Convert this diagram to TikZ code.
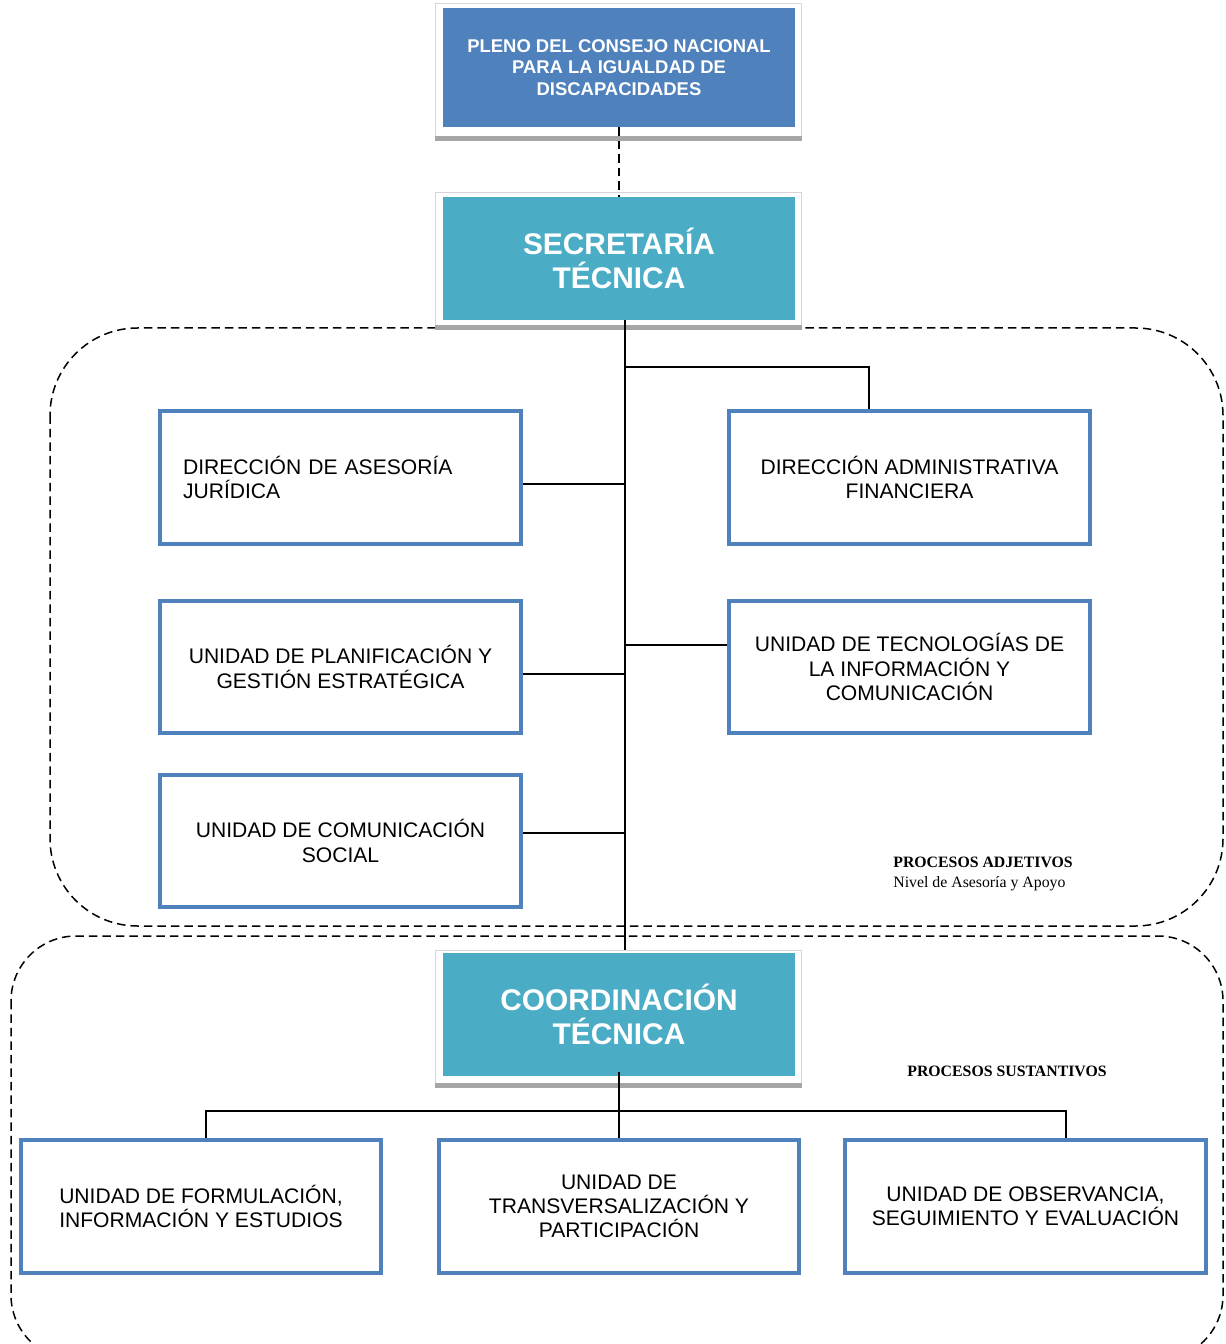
\documentclass[tikz,border=0pt]{standalone}
\usepackage{fontspec}
\setmainfont{Liberation Sans}
\newfontfamily\timesfont{Liberation Serif}
\definecolor{plenoblue}{HTML}{4F81BD}
\definecolor{secteal}{HTML}{4BACC6}
\definecolor{framegray}{HTML}{D6D6D6}
\definecolor{shelfgray}{HTML}{A6A6A6}

\begin{document}
\begin{tikzpicture}[x=0.02cm, y=-0.02cm,
    unitbox/.style={draw=plenoblue, line width=0.08cm, fill=white, minimum width=7.22cm, minimum height=2.66cm, align=center, font=\fontsize{12}{13.8}\selectfont},
    headbox/.style={fill=secteal, minimum width=7.04cm, minimum height=2.46cm, align=center, text=white, font=\bfseries\fontsize{17}{19.3}\selectfont},
    headframe/.style={draw=framegray, line width=0.02cm, fill=white, minimum width=7.34cm, minimum height=2.7cm},
    shelf/.style={shelfgray, line width=0.1cm},
    link/.style={line width=0.04cm},
    zone/.style={dash pattern=on 0.17cm off 0.1cm, line width=0.03cm},
    tag/.style={anchor=west, inner sep=0pt, font=\timesfont\fontsize{9}{11}\selectfont}]
    \useasboundingbox (0, 0) rectangle (1225, 1344);

    % zonas
    \draw[zone, rounded corners=1.75cm] (50, 328) rectangle (1223, 926);
    \draw[zone, rounded corners=1.3cm] (11, 936) rectangle (1223, 1360);

    % cabeceras
    \node[headframe] (plenof) at (618.5, 70.5) {};
    \draw[shelf] (plenof.south west) -- (plenof.south east);
    \node[headbox, fill=plenoblue, minimum height=2.38cm, font=\bfseries\fontsize{10.5}{12.2}\selectfont] (pleno) at (619, 67.5) {PLENO DEL CONSEJO NACIONAL\\PARA LA IGUALDAD DE\\DISCAPACIDADES};
    \node[headframe] (secretariaf) at (618.5, 260) {};
    \draw[shelf] (secretariaf.south west) -- (secretariaf.south east);
    \node[headbox] (secretaria) at (619, 258.5) {SECRETARÍA\\TÉCNICA};
    \node[headframe] (coordf) at (618.5, 1018) {};
    \draw[shelf] (coordf.south west) -- (coordf.south east);
    \node[headbox] (coord) at (619, 1014.5) {COORDINACIÓN\\TÉCNICA};

    % asesoria y apoyo
    \node[unitbox, text width=6.3cm, align=left] (juridica) at (340.5, 477.5) {DIRECCIÓN DE ASESORÍA\\JURÍDICA};
    \node[unitbox] (admin) at (909.5, 477.5) {DIRECCIÓN ADMINISTRATIVA\\FINANCIERA};
    \node[unitbox] (planif) at (340.5, 667) {UNIDAD DE PLANIFICACIÓN Y\\GESTIÓN ESTRATÉGICA};
    \node[unitbox] (tic) at (909.5, 667) {UNIDAD DE TECNOLOGÍAS DE\\LA INFORMACIÓN Y\\COMUNICACIÓN};
    \node[unitbox] (comsoc) at (340.5, 841) {UNIDAD DE COMUNICACIÓN\\SOCIAL};

    % sustantivos
    \node[unitbox] (formul) at (201, 1206.5) {UNIDAD DE FORMULACIÓN,\\INFORMACIÓN Y ESTUDIOS};
    \node[unitbox] (transv) at (619, 1206.5) {UNIDAD DE\\TRANSVERSALIZACIÓN Y\\PARTICIPACIÓN};
    \node[unitbox] (observ) at (1025.5, 1206.5) {UNIDAD DE OBSERVANCIA,\\SEGUIMIENTO Y EVALUACIÓN};

    \node[tag] (adjetivos) at (893, 862) {\bfseries PROCESOS ADJETIVOS};
    \node[tag] (nivel) at (893, 884) {Nivel de Asesoría y Apoyo};
    \node[tag] (sustantivos) at (907, 1071) {\bfseries PROCESOS SUSTANTIVOS};

    % conectores
    \coordinate (spine) at (625, 0);
    \coordinate (fork) at (625, 367);
    \coordinate (bus) at (619, 1111);
    \draw[zone] (pleno.south) -- (secretaria.north);
    \draw[link] (secretaria.south -| spine) -- ([yshift=0.06cm]coord.north -| spine);
    \draw[link] (fork) -| ([xshift=-0.82cm]admin.north);
    \draw[link] ([yshift=-0.13cm]juridica.east) -- ([yshift=-0.13cm]juridica.east -| spine);
    \draw[link] ([yshift=-0.14cm]planif.east) -- ([yshift=-0.14cm]planif.east -| spine);
    \draw[link] ([yshift=0.44cm]tic.west) -- ([yshift=0.44cm]tic.west -| spine);
    \draw[link] ([yshift=0.16cm]comsoc.east) -- ([yshift=0.16cm]comsoc.east -| spine);
    \draw[link] ([yshift=0.08cm]coord.south) -- (transv.north);
    \draw[link] (bus) -| ([xshift=0.1cm]formul.north);
    \draw[link] (bus) -| ([xshift=0.81cm]observ.north);
\end{tikzpicture}
\end{document}
